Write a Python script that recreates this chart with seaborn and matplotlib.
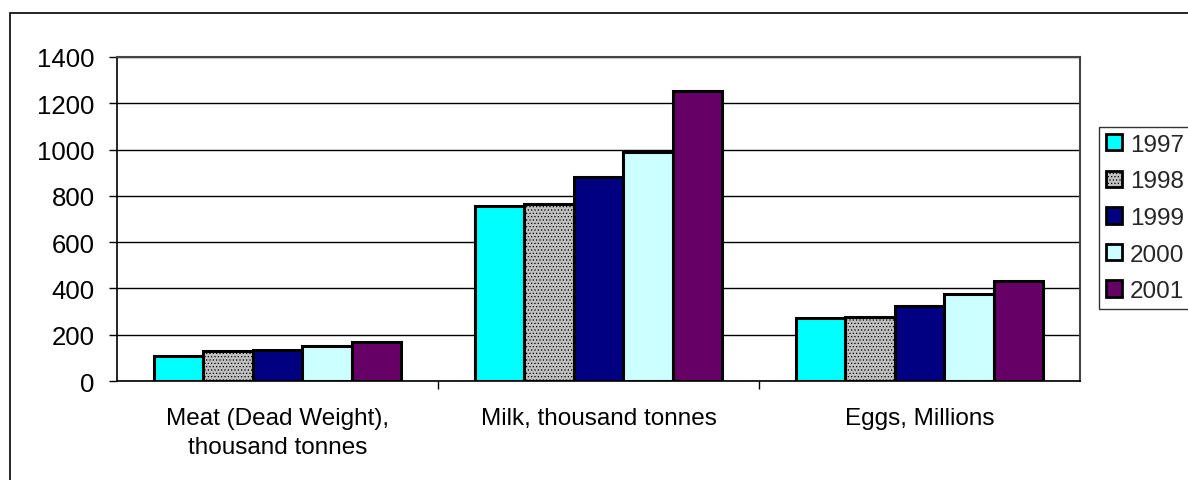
import matplotlib
matplotlib.use("Agg")
import matplotlib.pyplot as plt
from matplotlib.patches import Rectangle, Patch
import seaborn as sns
import pandas as pd

# Livestock output by product and year
categories = ["Meat (Dead Weight),\nthousand tonnes", "Milk, thousand tonnes", "Eggs, Millions"]
years = ["1997", "1998", "1999", "2000", "2001"]
meat = [109, 131, 134, 150, 168]
milk = [755, 766, 880, 990, 1252]
eggs = [274, 277, 325, 377, 432]
yticks = [0, 200, 400, 600, 800, 1000, 1200, 1400]

colors = ["#00FFFF", "#C0C0C0", "#000080", "#CCFFFF", "#660066"]

rows = []
for cat, vals in zip(categories, [meat, milk, eggs]):
    for yr, v in zip(years, vals):
        rows.append({"category": cat, "year": yr, "value": v})
df = pd.DataFrame(rows)

sns.set_theme(style="white")
plt.rcParams["font.family"] = ["Liberation Sans", "DejaVu Sans"]
plt.rcParams["hatch.color"] = "#acacac"
plt.rcParams["hatch.linewidth"] = 0.5

fig = plt.figure(figsize=(11.88, 4.81), dpi=100)
ax = fig.add_axes([117 / 1188, 1 - 382 / 481, (1080 - 117) / 1188, (382 - 58) / 481])

sns.barplot(data=df, x="category", y="value", hue="year", order=categories,
            hue_order=years, palette=colors, saturation=1, edgecolor="black",
            linewidth=2.2, width=0.77, gap=0, legend=False, ax=ax, zorder=3)

# fine texture on the 1998 series
for bar in ax.containers[1]:
    bar.set_hatch(".....")

ax.set_ylim(0, 1400)
ax.set_xlim(-0.5, 2.5)
ax.set_yticks(yticks)
ax.set_yticklabels([str(t) for t in yticks], fontsize=18.5, color="black")
ax.set_xticks(range(len(categories)))
ax.set_xticklabels(categories, fontsize=17.5, color="black", linespacing=1.4)
ax.tick_params(axis="x", which="major", length=0, pad=19)
ax.set_xticks([0.5, 1.5], minor=True)
ax.tick_params(axis="x", which="minor", length=6, width=1, color="black", direction="out", bottom=True)
ax.tick_params(axis="y", length=6, width=1, color="black", direction="out", pad=10, left=True)
ax.set_xlabel("")
ax.set_ylabel("")

ax.yaxis.grid(True, color="black", linewidth=1)
ax.set_axisbelow(True)
for side in ["left", "bottom"]:
    ax.spines[side].set_color("black")
    ax.spines[side].set_linewidth(1.2)
for side in ["top", "right"]:
    ax.spines[side].set_color("#444444")
    ax.spines[side].set_linewidth(1.5)

handles = [Patch(facecolor=c, edgecolor="black", linewidth=2, hatch=("....." if y == "1998" else None))
           for c, y in zip(colors, years)]
leg = fig.legend(handles, years, loc="upper left", bbox_to_anchor=(1099 / 1188, 1 - 128 / 481),
                 frameon=True, fancybox=False, fontsize=17.5, handlelength=0.66, handleheight=0.66,
                 handletextpad=0.32, labelspacing=0.6, borderpad=0.28, borderaxespad=0)
leg.get_frame().set_edgecolor("black")
leg.get_frame().set_linewidth(1)

# outer chart frame
fig.patches.append(Rectangle((10 / 1188, -0.2), 1.2, 1 - 14 / 481 + 0.2, transform=fig.transFigure,
                             fill=False, edgecolor="black", linewidth=1.2))

fig.savefig("out.png", dpi=100)
